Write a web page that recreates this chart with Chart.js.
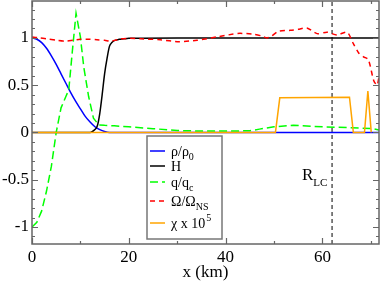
<!DOCTYPE html>
<html>
<head>
<meta charset="utf-8">
<script src="https://cdn.jsdelivr.net/npm/chart.js@4/dist/chart.umd.min.js"></script>
<style>
  html, body { margin: 0; padding: 0; background: #fff; }
  #wrap { width: 382px; height: 283px; }
</style>
</head>
<body>
<div id="wrap"><canvas id="chartProfile" width="382" height="283"></canvas></div>
<script>
/* Perfil radial: datos */
var xTicks = [0, 20, 40, 60];
var yTicks = [-1, -0.5, 0, 0.5, 1];
var xMin = 0, xMax = 71.7;
var yMin = -1.18, yMax = 1.39;
var rlcX = 62;

var rhoX = [0, 1, 2, 3, 4, 5, 6, 7, 8, 9, 10, 11, 12, 13, 14, 15, 16, 18, 20, 30, 40, 50, 60, 70, 71.7];
var rhoY = [1, 0.985, 0.95, 0.89, 0.81, 0.72, 0.62, 0.52, 0.42, 0.33, 0.25, 0.17, 0.11, 0.06, 0.03, 0.01, 0, 0, 0, 0, 0, 0, 0, 0, 0];

var hX = [0, 12, 12.5, 13, 13.5, 14, 14.5, 15, 15.5, 16, 16.5, 17, 18, 19, 20, 30, 40, 50, 60, 71.7];
var hY = [0, 0, 0.01, 0.03, 0.07, 0.2, 0.4, 0.62, 0.78, 0.91, 0.95, 0.97, 0.985, 0.99, 0.995, 1, 1, 1, 1, 1];

var qX = [0, 1, 2, 3, 4, 5, 6, 7, 7.6, 8.3, 9.1, 10, 10.7, 11.7, 12.7, 13.8, 15, 17, 20, 25, 30, 35, 40, 45, 47, 50, 54, 60, 66, 70.5, 71.7];
var qY = [-1, -0.95, -0.83, -0.62, -0.36, 0, 0.26, 0.38, 0.45, 0.84, 1.26, 1.01, 0.69, 0.38, 0.15, 0.08, 0.075, 0.07, 0.06, 0.04, 0.02, 0.015, 0.015, 0.017, 0.035, 0.06, 0.075, 0.06, 0.05, 0.04, 0.025];

var omX = [0, 1.5, 3, 5, 6.9, 8.5, 10, 12, 13.4, 15, 16.2, 17.2, 18.2, 20.3, 22.4, 26.5, 30.3, 34.1, 38.2, 41.6, 43, 45.7, 47.5, 48.5, 49.5, 50.9, 53.4, 55, 56.8, 58.9, 61, 63, 65.1, 66.4, 67.5, 68.5, 69.5, 70.6, 71.3, 71.7];
var omY = [1.01, 1.0, 0.99, 0.975, 0.965, 0.975, 0.985, 0.985, 0.98, 0.975, 0.965, 0.975, 0.99, 0.995, 0.99, 0.98, 0.96, 0.975, 1.01, 1.04, 1.048, 1.04, 1.02, 1.0, 1.02, 1.07, 1.08, 1.09, 1.105, 1.045, 1.06, 1.03, 1.06, 0.94, 0.84, 0.8, 0.77, 0.55, 0.5, 0.59];

var chiX = [0, 50.3, 51.2, 65.6, 66.4, 68.7, 69.4, 70.1];
var chiY = [0, 0, 0.366, 0.372, 0, 0, 0.437, 0];

var legendMain = ['ρ/ρ', 'H', 'q/q', 'Ω/Ω', 'χ x 10'];
var legendSub = ['0', '', 'c', 'NS', ''];
var legendSup = ['', '', '', '', '5'];

var SERIF = "'Liberation Serif', 'DejaVu Serif', serif";

function pts(xs, ys) {
  var out = [];
  for (var i = 0; i < xs.length; i++) out.push({ x: xs[i], y: ys[i] });
  return out;
}

var styles = [
  { color: '#0000ff', dash: [] },
  { color: '#000000', dash: [] },
  { color: '#00ff00', dash: [8, 4] },
  { color: '#ff0000', dash: [5, 4] },
  { color: '#ffa500', dash: [] }
];

/* marco, ticks interiores, leyenda y R_LC */
var decorPlugin = {
  id: 'decor',
  afterDatasetsDraw: function (chart) {
    var ctx = chart.ctx;
    var a = chart.chartArea;
    var xs = chart.scales.x, ys = chart.scales.y;
    ctx.save();

    // ticks
    ctx.strokeStyle = '#666';
    ctx.lineWidth = 1.2;
    ctx.beginPath();
    for (var v = 0; v <= 70; v += 10) {
      var px = Math.round(xs.getPixelForValue(v)) + 0.5;
      var len = (v % 20 === 0) ? 6 : 3;
      ctx.moveTo(px, a.bottom); ctx.lineTo(px, a.bottom - len);
      ctx.moveTo(px, a.top); ctx.lineTo(px, a.top + len);
    }
    for (var k = -11; k <= 13; k++) {
      var yv = k / 10;
      var py = Math.round(ys.getPixelForValue(yv)) + 0.5;
      var l2 = (k % 5 === 0) ? 6 : 3;
      ctx.moveTo(a.left, py); ctx.lineTo(a.left + l2, py);
      ctx.moveTo(a.right, py); ctx.lineTo(a.right - l2, py);
    }
    ctx.stroke();

    // marco
    ctx.lineWidth = 1.5;
    ctx.strokeRect(a.left, a.top, a.right - a.left, a.bottom - a.top);

    // R_LC
    ctx.fillStyle = '#000';
    ctx.textBaseline = 'alphabetic';
    ctx.font = '17px ' + SERIF;
    ctx.fillText('R', 302, 180);
    var rw = ctx.measureText('R').width;
    ctx.font = '11px ' + SERIF;
    ctx.fillText('LC', 302 + rw, 186);

    // leyenda
    var bx = 147, by = 136, bw = 75, bh = 103;
    ctx.fillStyle = '#fff';
    ctx.fillRect(bx, by, bw, bh);
    ctx.strokeStyle = '#777';
    ctx.lineWidth = 1.5;
    ctx.strokeRect(bx, by, bw, bh);
    var rows = [151, 166, 182, 201, 223];
    for (var i = 0; i < legendMain.length; i++) {
      var st = styles[i];
      ctx.strokeStyle = st.color;
      ctx.lineWidth = 1.5;
      ctx.setLineDash(st.dash);
      ctx.beginPath();
      ctx.moveTo(150, rows[i]); ctx.lineTo(165, rows[i]);
      ctx.stroke();
      ctx.setLineDash([]);
      ctx.fillStyle = '#000';
      ctx.font = '14px ' + SERIF;
      var tx = 171, ty = rows[i] + 5;
      ctx.fillText(legendMain[i], tx, ty);
      var w = ctx.measureText(legendMain[i]).width;
      ctx.font = '10px ' + SERIF;
      if (legendSub[i]) ctx.fillText(legendSub[i], tx + w, ty + 4);
      if (legendSup[i]) ctx.fillText(legendSup[i], tx + w + 1, ty - 7);
    }
    ctx.restore();
  }
};

var ctx = document.getElementById('chartProfile').getContext('2d');
var myChart = new Chart(ctx, {
  type: 'scatter',
  plugins: [decorPlugin],
  data: {
    datasets: [
      { label: 'chi', data: pts(chiX, chiY), borderColor: styles[4].color, borderWidth: 1.5, order: 0 },
      { label: 'omega', data: pts(omX, omY), borderColor: styles[3].color, borderDash: styles[3].dash, borderWidth: 1.5, tension: 0.25, order: 1 },
      { label: 'q', data: pts(qX, qY), borderColor: styles[2].color, borderDash: styles[2].dash, borderWidth: 1.5, order: 2 },
      { label: 'H', data: pts(hX, hY), borderColor: styles[1].color, borderWidth: 1.5, cubicInterpolationMode: 'monotone', order: 3 },
      { label: 'rho', data: pts(rhoX, rhoY), borderColor: styles[0].color, borderWidth: 1.5, cubicInterpolationMode: 'monotone', order: 4 },
      { label: 'RLC', data: [{ x: rlcX, y: yMin }, { x: rlcX, y: yMax }], borderColor: '#000', borderDash: [4, 3], borderWidth: 1, order: 5 }
    ].map(function (d) {
      d.showLine = true;
      d.pointRadius = 0;
      d.pointHoverRadius = 0;
      d.fill = false;
      return d;
    })
  },
  options: {
    responsive: false,
    animation: false,
    layout: { padding: { top: 1, right: 3, left: 0, bottom: 0 } },
    plugins: {
      legend: { display: false },
      tooltip: { enabled: false }
    },
    scales: {
      x: {
        type: 'linear',
        min: xMin,
        max: xMax,
        grid: { display: false, drawTicks: false, tickLength: 0 },
        border: { display: false },
        afterBuildTicks: function (s) { s.ticks = xTicks.map(function (v) { return { value: v }; }); },
        afterFit: function (s) { s.height = 39; s.paddingLeft = 0; s.paddingRight = 0; },
        ticks: {
          padding: 3,
          color: '#000',
          font: { family: SERIF, size: 17 },
          maxRotation: 0,
          callback: function (v) { return String(v); }
        },
        title: {
          display: true,
          text: 'x (km)',
          color: '#000',
          font: { family: SERIF, size: 17 },
          padding: { top: 0, bottom: 0 }
        }
      },
      y: {
        type: 'linear',
        min: yMin,
        max: yMax,
        grid: { display: false, drawTicks: false, tickLength: 0 },
        border: { display: false },
        afterBuildTicks: function (s) { s.ticks = yTicks.map(function (v) { return { value: v }; }); },
        afterFit: function (s) { s.width = 32; s.paddingTop = 0; s.paddingBottom = 0; },
        ticks: {
          padding: 3,
          color: '#000',
          font: { family: SERIF, size: 17 },
          callback: function (v) { return String(v); }
        }
      }
    }
  }
});
</script>
</body>
</html>
